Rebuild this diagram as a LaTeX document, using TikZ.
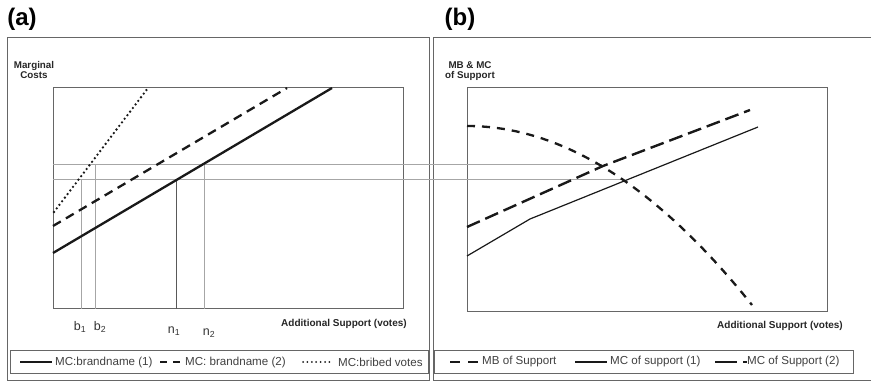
\documentclass[tikz,border=0pt]{standalone}
\usepackage{fontspec}
\setmainfont{Liberation Sans}
\begin{document}
\begin{tikzpicture}[x=1pt,y=-1pt,
  frame/.style={draw=black!60, line width=1pt},
  guide/.style={draw=black!35, line width=0.9pt},
  darkguide/.style={draw=black!65, line width=0.9pt},
  panel/.style={font=\bfseries\fontsize{24}{26}\selectfont, inner sep=0},
  ylab/.style={font=\bfseries\fontsize{9.8}{10.8}\selectfont, align=center, inner sep=0, text=black!85},
  xlab/.style={font=\bfseries\fontsize{10}{11}\selectfont, inner sep=0, text=black!85},
  tick/.style={font=\fontsize{12.5}{13}\selectfont, inner sep=0, text=black!80},
  leg/.style={font=\fontsize{11.6}{13}\selectfont, inner sep=0, anchor=west, text=black!75},
  mcone/.style={draw=black!90, line width=2.3pt},
  mctwo/.style={draw=black!90, line width=2.3pt, dash pattern=on 9pt off 6pt},
  bribe/.style={draw=black!90, line width=2.6pt, line cap=round, dash pattern=on 0pt off 4.5pt},
  mbsup/.style={draw=black!90, line width=2.3pt, dash pattern=on 8pt off 7pt},
  mcsupone/.style={draw=black!90, line width=1.2pt},
  mcsuptwo/.style={draw=black!90, line width=2.4pt, dash pattern=on 14pt off 6pt}
]
\useasboundingbox (0,0) rectangle (871,382);

% ---------- panel labels ----------
\node[panel] (pa) at (22,19) {(a)};
\node[panel] (pb) at (460,19) {(b)};

% ---------- frames ----------
\draw[frame] (7,38) rectangle (429,380);
\draw[frame] (871,38) -- (433,38) -- (433,380) -- (871,380);
\draw[frame] (10,351) rectangle (428,373);
\draw[frame] (434,351) rectangle (853,373);

% ---------- inner plot boxes ----------
\draw[frame] (53,88) rectangle (403,309);
\draw[frame] (467,88) rectangle (827,312);

% ---------- guide lines ----------
\coordinate (hu0) at (53,164);
\coordinate (hu1) at (602,164);
\coordinate (hl0) at (53,179);
\coordinate (hl1) at (624,179);
\draw[guide] (hu0) -- (hu1);
\draw[guide] (hl0) -- (hl1);
\draw[guide] (81,179) -- (81,309);
\draw[guide] (95,164) -- (95,309);
\draw[darkguide] (176,179) -- (176,309);
\draw[guide] (204,164) -- (204,309);

% ---------- panel (a) curves ----------
\draw[bribe] (54,212) -- (148,88);
\draw[mctwo] (53,226) -- (287,88);
\draw[mcone] (53,253) -- (332,88);

% ---------- panel (b) curves ----------
\draw[mbsup] (467,126) .. controls (562,126) and (657,186) .. (752,305);
\draw[mcsuptwo] (467,227) -- (603,166) -- (750,110);
\draw[mcsupone] (467,256) -- (530,219) -- (758,127);

% ---------- axis texts ----------
\node[ylab] (yla) at (34,70) {Marginal\\Costs};
\node[ylab] (ylb) at (470,71) {MB \& MC\\of Support};
\node[xlab] (xla) at (344,324) {Additional Support (votes)};
\node[xlab] (xlb) at (780,326) {Additional Support (votes)};
\node[tick] (tb1) at (80,327) {b\textsubscript{1}};
\node[tick] (tb2) at (100,327) {b\textsubscript{2}};
\node[tick] (tn1) at (174,331) {n\textsubscript{1}};
\node[tick] (tn2) at (209,333) {n\textsubscript{2}};

% ---------- legend (a) ----------
\draw[mcone, line width=2pt] (20,362) -- (52,362);
\node[leg] (la1) at (55,362) {MC:brandname (1)};
\draw[draw=black!90, line width=2pt, dash pattern=on 7pt off 6pt] (160,362) -- (180,362);
\node[leg] (la2) at (185,362) {MC: brandname (2)};
\draw[draw=black!90, line width=2pt, line cap=round, dash pattern=on 0pt off 4.4pt] (303,362) -- (333,362);
\node[leg] (la3) at (338,362) {MC:bribed votes};

% ---------- legend (b) ----------
\draw[draw=black!90, line width=2pt, dash pattern=on 10pt off 8pt] (450,362) -- (478,362);
\node[leg] (lb1) at (482,362) {MB of Support};
\draw[mcsupone] (575,362) -- (607,362);
\node[leg] (lb2) at (610,362) {MC of support (1)};
\draw[draw=black!90, line width=2pt, dash pattern=on 22pt off 6pt] (715,362) -- (747,362);
\node[leg] (lb3) at (747,362) {MC of Support (2)};
\end{tikzpicture}
\end{document}
